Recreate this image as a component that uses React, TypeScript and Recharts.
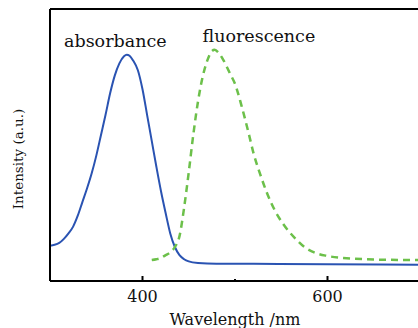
import { LineChart, Line, XAxis, YAxis, ReferenceLine, ReferenceDot } from "recharts";

document.body.style.margin = "0";

// absorbance spectrum (nm, a.u.)
const absWavelength = [
  300, 305, 310, 315, 320, 325, 330, 335, 340, 345, 350, 355, 360, 365, 370, 375, 380, 383, 386, 390,
  395, 400, 405, 410, 415, 420, 425, 430, 435, 440, 445, 450, 460, 480, 520, 600, 700,
];
const absValue = [
  0.13, 0.133, 0.14, 0.155, 0.175, 0.2, 0.24, 0.29, 0.34, 0.395, 0.46, 0.535, 0.61, 0.69, 0.755, 0.8, 0.826, 0.832, 0.828, 0.81,
  0.775, 0.705, 0.61, 0.515, 0.42, 0.33, 0.25, 0.175, 0.125, 0.095, 0.08, 0.072, 0.066, 0.063, 0.063, 0.062, 0.06,
];

// fluorescence spectrum (nm, a.u.)
const fluWavelength = [
  410, 415, 420, 425, 430, 435, 440, 445, 450, 455, 460, 465, 470, 475, 478, 482, 487, 495, 500, 507,
  515, 520, 527, 535, 543, 552, 565, 575, 588, 600, 625, 650, 700,
];
const fluValue = [
  0.077, 0.08, 0.085, 0.095, 0.105, 0.125, 0.165, 0.27, 0.4, 0.54, 0.66, 0.75, 0.81, 0.845, 0.85, 0.84, 0.815, 0.76, 0.725, 0.645,
  0.54, 0.47, 0.395, 0.32, 0.26, 0.21, 0.157, 0.125, 0.102, 0.092, 0.083, 0.079, 0.077,
];

const xTicks = [400, 500, 600];
const xLabels: Record<number, string> = { 400: "400", 600: "600" };

const seriesLabels = [
  { text: "absorbance", x: 370.6, y: 0.86 },
  { text: "fluorescence", x: 525.8, y: 0.879 },
];

const absData = absWavelength.map((w, i) => ({ w, v: absValue[i] }));
const fluData = fluWavelength.map((w, i) => ({ w, v: fluValue[i] }));

const FONT = "DejaVu Serif";

function WaveTick(props: any) {
  const { x, y, payload } = props;
  const major = xLabels[payload.value] !== undefined;
  return (
    <g>
      <line x1={x} x2={x} y1={y} y2={y - (major ? 5 : 2)} stroke="#000" strokeWidth={2} />
      {major && (
        <text x={x} y={y + 21} textAnchor="middle" style={{ fontFamily: FONT }} fontSize={16} fill="#111">
          {xLabels[payload.value]}
        </text>
      )}
    </g>
  );
}

function YLabel(props: any) {
  const vb = props.viewBox;
  const cx = vb.x + vb.width / 2 - 7;
  const cy = vb.y + vb.height / 2 + 14;
  return (
    <text
      x={cx}
      y={cy}
      transform={`rotate(-90, ${cx}, ${cy})`}
      textAnchor="middle"
      dominantBaseline="central"
      style={{ fontFamily: FONT, fontSize: 13.5 }}
      fill="#111"
    >
      Intensity (a.u.)
    </text>
  );
}

function makeSeriesLabel(text: string) {
  return (props: any) => {
    const vb = props.viewBox;
    return (
      <text x={vb.x + vb.width / 2} y={vb.y + vb.height / 2} textAnchor="middle" style={{ fontFamily: FONT, fontSize: 17.5 }} fill="#111">
        {text}
      </text>
    );
  };
}

export default function App() {
  return (
    <div style={{ width: 418, height: 328, overflow: "hidden", background: "#fff" }}>
      <LineChart width={420} height={328} margin={{ top: 9, right: 0, bottom: 0, left: 0 }}>
        <XAxis
          type="number"
          dataKey="w"
          domain={[300, 700]}
          ticks={xTicks}
          allowDataOverflow
          tickLine={false}
          tickSize={0}
          tickMargin={0}
          tick={<WaveTick />}
          axisLine={{ stroke: "#000", strokeWidth: 2 }}
          label={{ value: "Wavelength /nm", position: "insideBottom", offset: 3, style: { fontFamily: FONT, fontSize: 16 }, fill: "#111" }}
          height={47}
        />
        <YAxis
          type="number"
          domain={[0, 1]}
          allowDataOverflow
          width={50}
          tick={false}
          tickLine={false}
          axisLine={{ stroke: "#000", strokeWidth: 2 }}
          label={<YLabel />}
        />
        <ReferenceLine y={1} stroke="#000" strokeWidth={2} />
        <Line
          data={absData}
          dataKey="v"
          type="monotone"
          stroke="#2a53b2"
          strokeWidth={2}
          dot={false}
          isAnimationActive={false}
        />
        <Line
          data={fluData}
          dataKey="v"
          type="monotone"
          stroke="#6cc04a"
          strokeWidth={2.5}
          strokeDasharray="7 5"
          dot={false}
          isAnimationActive={false}
        />
        {seriesLabels.map((s) => (
          <ReferenceDot key={s.text} x={s.x} y={s.y} r={0} fill="none" stroke="none" label={makeSeriesLabel(s.text)} />
        ))}
      </LineChart>
    </div>
  );
}
